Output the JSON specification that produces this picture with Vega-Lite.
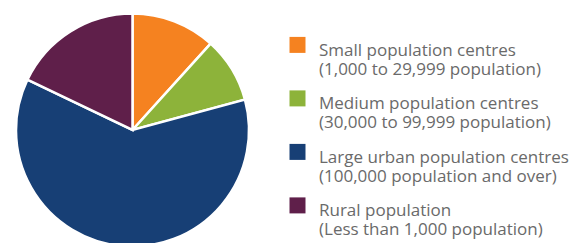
{
  "$schema": "https://vega.github.io/schema/vega-lite/v6.json",
  "width": 265,
  "height": 260,
  "padding": 0,
  "autosize": {"type": "pad"},
  "background": "white",
  "view": {"stroke": null},
  "data": {
    "values": [
      {"category": "Small population centres\n(1,000 to 29,999 population)", "share": 11.7, "rank": 1},
      {"category": "Medium population centres\n(30,000 to 99,999 population)", "share": 9.1, "rank": 2},
      {"category": "Large urban population centres\n(100,000 population and over)", "share": 61.3, "rank": 3},
      {"category": "Rural population\n(Less than 1,000 population)", "share": 17.9, "rank": 4}
    ]
  },
  "mark": {"type": "arc", "outerRadius": 116.5, "stroke": "white", "strokeWidth": 2.5},
  "encoding": {
    "theta": {"field": "share", "type": "quantitative", "stack": true},
    "order": {"field": "rank", "type": "quantitative"},
    "color": {
      "field": "category",
      "type": "nominal",
      "scale": {
        "domain": [
          "Small population centres\n(1,000 to 29,999 population)",
          "Medium population centres\n(30,000 to 99,999 population)",
          "Large urban population centres\n(100,000 population and over)",
          "Rural population\n(Less than 1,000 population)"
        ],
        "range": ["#F58220", "#8DB33A", "#173F75", "#5F1F4A"]
      },
      "legend": {
        "orient": "none",
        "legendX": 289,
        "legendY": 34,
        "title": null,
        "padding": 0,
        "symbolType": "M-1,-0.7H1V1.3H-1Z",
        "symbolSize": 256,
        "symbolStrokeWidth": 0,
        "symbolOpacity": 1,
        "labelExpr": "split(datum.label, '\\n')",
        "labelFont": "Open Sans",
        "labelFontSize": 17,
        "labelColor": "#6a6a6a",
        "labelLimit": 400,
        "labelOffset": 13,
        "labelBaseline": "top",
        "labelLineHeight": 22,
        "rowPadding": 9.5
      }
    }
  }
}
